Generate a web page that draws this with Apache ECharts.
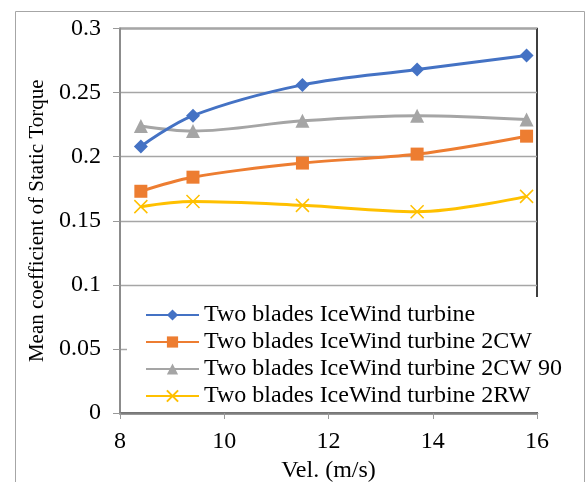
<!DOCTYPE html>
<html>
<head>
<meta charset="utf-8">
<script src="https://cdn.jsdelivr.net/npm/echarts@6/dist/echarts.min.js"></script>
<style>
html,body{margin:0;padding:0;background:#fff;}
#chart{width:586px;height:482px;}
</style>
</head>
<body>
<div id="chart"></div>
<script>
const velocities = [8.4, 9.4, 11.5, 13.7, 15.8];
const seriesNames = [
  "Two blades IceWind turbine",
  "Two blades IceWind turbine 2CW",
  "Two blades IceWind turbine 2CW 90",
  "Two blades IceWind turbine 2RW"
];
const iceWind = [0.208, 0.232, 0.256, 0.268, 0.279];
const iceWind2CW = [0.173, 0.184, 0.195, 0.202, 0.216];
const iceWind2CW90 = [0.224, 0.220, 0.228, 0.232, 0.229];
const iceWind2RW = [0.161, 0.165, 0.162, 0.157, 0.169];
const yTicks = [0, 0.05, 0.1, 0.15, 0.2, 0.25, 0.3];
const xTicks = [8, 10, 12, 14, 16];

const FONT = "'Liberation Serif', 'Times New Roman', serif";
const colors = ['#4472C4', '#ED7D31', '#A5A5A5', '#FFC000'];
const symbols = ['diamond', 'rect', 'triangle', 'path://M0,0L10,10M10,0L0,10'];
const sizes = [14, 13, 14, 13];
const allData = [iceWind, iceWind2CW, iceWind2CW90, iceWind2RW];

const chart = echarts.init(document.getElementById('chart'), null, {renderer: 'canvas'});
chart.setOption({
  animation: false,
  backgroundColor: '#fff',
  textStyle: {fontFamily: FONT},
  graphic: [{
    type: 'rect', z: -10,
    shape: {x: 15.5, y: 11.5, width: 569, height: 480},
    style: {fill: 'none', stroke: '#a6a6a6', lineWidth: 1}
  }],
  grid: {left: 120, right: 49, top: 28.5, bottom: 69, show: true, borderColor: '#000', borderWidth: 1.5,
         backgroundColor: 'transparent', containLabel: false, outerBoundsMode: 'none'},
  legend: {
    orient: 'vertical',
    left: 127, top: 297,
    padding: [6, 6, 4, 18],
    backgroundColor: '#fff',
    itemWidth: 53, itemHeight: 14, itemGap: 3,
    data: seriesNames,
    textStyle: {fontFamily: FONT, fontSize: 24, color: '#000', lineHeight: 24}
  },
  xAxis: {
    type: 'value', min: xTicks[0], max: xTicks[xTicks.length - 1], interval: 2,
    name: 'Vel. (m/s)', nameLocation: 'middle', nameGap: 45,
    nameTextStyle: {fontFamily: FONT, fontSize: 24, color: '#000'},
    axisLine: {show: true, onZero: false, lineStyle: {color: '#7f7f7f', width: 2.5}},
    axisTick: {show: true, inside: false, length: 6, lineStyle: {color: '#999', width: 1}},
    axisLabel: {fontFamily: FONT, fontSize: 24, color: '#000', margin: 17},
    splitLine: {show: false}
  },
  yAxis: {
    type: 'value', min: yTicks[0], max: yTicks[yTicks.length - 1], interval: 0.05,
    name: 'Mean coefficient of Static Torque', nameLocation: 'middle', nameGap: 72,
    nameTextStyle: {fontFamily: FONT, fontSize: 21, color: '#000'},
    axisLine: {show: true, onZero: false, lineStyle: {color: '#8c8c8c', width: 2}},
    axisTick: {show: true, inside: false, length: 7, lineStyle: {color: '#999', width: 1}},
    axisLabel: {fontFamily: FONT, fontSize: 24, color: '#000', margin: 19},
    splitLine: {show: true, lineStyle: {color: '#a6a6a6', width: 1.3}}
  },
  series: seriesNames.map((n, i) => ({
    name: n,
    type: 'line',
    smooth: 0.35,
    data: velocities.map((v, j) => [v, allData[i][j]]),
    symbol: symbols[i],
    symbolSize: sizes[i],
    showSymbol: true,
    lineStyle: {color: colors[i], width: 3},
    itemStyle: i === 3 ? {color: colors[i], borderColor: colors[i], borderWidth: 1.5} : {color: colors[i], borderWidth: 0},
    z: 2 + (4 - i)
  }))
});
</script>
</body>
</html>
